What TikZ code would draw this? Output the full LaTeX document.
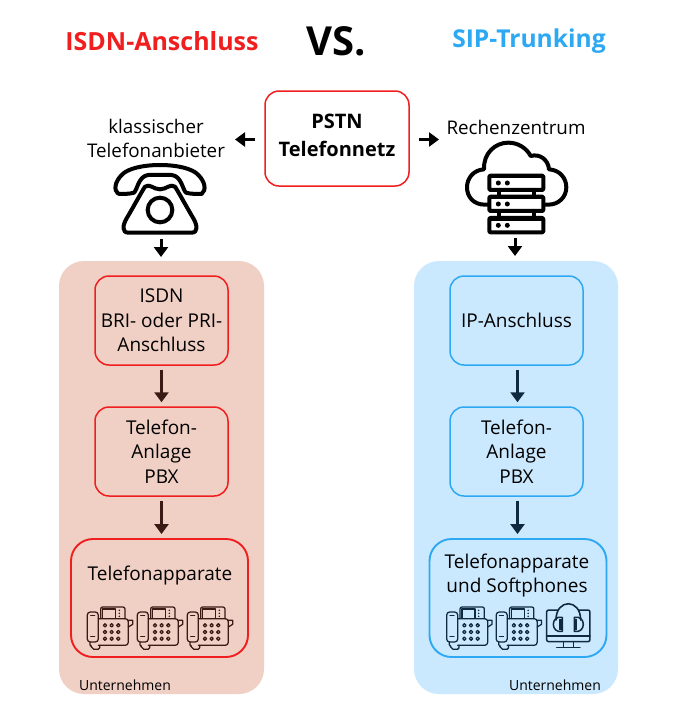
\documentclass[tikz,border=0pt]{standalone}
\usepackage{fontspec}
\setmainfont{Open Sans}
\usetikzlibrary{arrows.meta}
\definecolor{rd}{HTML}{F01E1E}
\definecolor{bl}{HTML}{2CA9F2}
\definecolor{pnr}{HTML}{F0CFC4}
\definecolor{pnb}{HTML}{CBE9FE}
\definecolor{dkr}{HTML}{3A1A14}
\definecolor{dkb}{HTML}{0F2A3F}
\tikzset{
  panel/.style={draw=none,rounded corners=25,minimum width=#1,minimum height=433},
  rbox/.style={draw=rd,line width=1.5,rounded corners=14,minimum width=133,minimum height=89,align=center,font=\fontsize{19}{24.5}\selectfont,inner sep=0},
  bbox/.style={rbox,draw=bl},
  bigbox/.style={rounded corners=22,minimum width=177,minimum height=118,line width=1.9,inner sep=0},
  lbl/.style={font=\fontsize{18.8}{24}\selectfont,align=center,inner sep=0},
  small/.style={font=\fontsize{14}{16}\selectfont,inner sep=0},
  arr/.style={-{Triangle[length=10,width=14]},line width=3,black},
  inarr/.style={arr,line width=2.8,shorten <=4,shorten >=4},
  icon/.style={line width=1.3,line join=round,line cap=round},
}
\newcommand{\deskphone}[3]{%
\begin{scope}[shift={(#1,#2)},scale=0.3333,#3,icon,line width=1.25]
 \draw[rounded corners=3] (0,15) rectangle (33,105);
 \draw (10,25)--(22,25) (10,88)--(22,88);
 \draw[rounded corners=1.5] (8,105)--(8,118)--(15,118)--(15,127)--(37,127)--(37,115);
 \draw[rounded corners=3] (33,35)--(123,35)--(123,115)--(33,115);
 \draw (123,40)--(136,40)--(136,52)--(123,60);
 \draw[rounded corners=2] (40,35)--(40,0)--(113,0)--(113,35);
 \draw (46,6) rectangle (85,35) ;
 \foreach \yy in {10,19,28}{\fill (96,\yy) circle (2.6);}
 \foreach \xx in {53,73,93}{\foreach \yy in {55,75,95}{\draw (\xx,\yy) circle (5);}}
\end{scope}}
\begin{document}
\begin{tikzpicture}[x=1pt,y=-1pt]
\useasboundingbox (0,0) rectangle (673,721);
\fill[white] (0,0) rectangle (673,721);
% titles
\node[inner sep=0,text=rd,font=\fontsize{25}{29}\selectfont\bfseries] (t1) at (162,41) {ISDN-Anschluss};
\node[inner sep=0,font=\fontsize{40}{44}\selectfont\bfseries] (t2) at (336,41) {VS.};
\node[inner sep=0,text=bl,font=\fontsize{24.6}{29}\selectfont\bfseries] (t3) at (529,41) {SIP-Trunking};
% top
\node[draw=rd,line width=1.5,rounded corners=14,minimum width=144,minimum height=95,inner sep=0] (pstn) at (337,138.5) {};
\node[align=center,inner sep=0,font=\fontsize{20}{28}\selectfont\bfseries] (pstnt) at (337,135.5) {PSTN\\Telefonnetz};
\node[lbl] (anb) at (156,138) {klassischer\\Telefonanbieter};
\node[lbl] (rz) at (516,127) {Rechenzentrum};
\coordinate (tipl) at (235,139.5);
\coordinate (tipr) at (439,139.5);
\coordinate (pstnl) at (pstn.west |- tipl);
\coordinate (pstnr) at (pstn.east |- tipr);
\draw[arr,shorten <=9] (pstnl) -- (tipl);
\draw[arr,shorten <=9] (pstnr) -- (tipr);
% panels
\node[panel=205,fill=pnr] (pl) at (161.5,477.5) {};
\node[panel=204,fill=pnb] (pr) at (516,477.5) {};
% old phone
\begin{scope}[shift={(60,90)},scale=0.3333,line width=4,line join=round,line cap=round]
 \draw (175,312) .. controls (160,300) and (165,275) .. (185,255) .. controls (220,215) and (380,215) .. (415,255) .. controls (435,275) and (440,300) .. (425,312) .. controls (410,312) and (390,312) .. (378,308) .. controls (368,300) and (365,258) .. (335,255) -- (265,255) .. controls (235,258) and (232,300) .. (222,308) .. controls (210,312) and (190,312) .. cycle;
 \draw (255,290) .. controls (270,280) and (280,298) .. (300,298) .. controls (320,298) and (330,280) .. (345,290) .. controls (352,300) and (385,360) .. (400,385) .. controls (412,405) and (415,428) .. (395,428) -- (205,428) .. controls (185,428) and (188,405) .. (200,385) .. controls (215,360) and (248,300) .. cycle;
 \draw (300,360) circle (37);
\end{scope}
\coordinate (oldb) at (161,257);
\coordinate (oldt) at (161,239);
\draw[arr] (oldt) -- (oldb);
% cloud servers
\begin{scope}[shift={(420,110)},scale=0.3333,line width=4,line join=round,line cap=round]
 \draw (205,284) -- (195,284) .. controls (160,284) and (141,260) .. (141,232) .. controls (141,205) and (160,180) .. (192,178) .. controls (190,130) and (225,98) .. (265,98) .. controls (295,98) and (320,115) .. (332,138) .. controls (360,130) and (385,150) .. (387,178) .. controls (420,180) and (439,205) .. (439,232) .. controls (439,262) and (415,284) .. (385,284) -- (372,284);
 \foreach \yy in {197,260,324}{
  \draw[fill=white,rounded corners=1] (208,\yy) rectangle (370,\yy+43);
  \fill (208,\yy) rectangle (370,\yy+8);
  \fill (235,\yy+22) circle (7.5);
  \fill (262,\yy+22) circle (7.5);
 }
 \draw (238,240)--(238,260) (342,240)--(342,260) (238,303)--(238,324) (342,303)--(342,324);
\end{scope}
\coordinate (cloudb) at (515,256);
\coordinate (cloudt) at (515,238);
\draw[arr] (cloudt) -- (cloudb);
% left boxes
\node[rbox] (l1) at (161.5,320.5) {ISDN\\BRI- oder PRI-\\Anschluss};
\node[rbox] (l2) at (161.5,451.5) {Telefon-\\Anlage\\PBX};
\node[bigbox,draw=rd] (l3) at (159.5,598) {};
\node[lbl,font=\fontsize{19}{24}\selectfont] (l3t) at (160,576) {Telefonapparate};
\draw[inarr,dkr] (l1) -- (l2);
\draw[inarr,dkr] (l2) -- (l2 |- l3.north);
\deskphone{87.3}{607}{dkr}
\deskphone{137.3}{607}{dkr}
\deskphone{187.3}{607}{dkr}
\node[small] (lu) at (125,685) {Unternehmen};
% right boxes
\node[bbox] (r1) at (516.5,320.5) {IP-Anschluss};
\node[bbox] (r2) at (516.5,451.5) {Telefon-\\Anlage\\PBX};
\node[bigbox,draw=bl] (r3) at (518,598) {};
\node[lbl,font=\fontsize{19}{24.5}\selectfont] (r3t) at (517,575.5) {Telefonapparate\\und Softphones};
\draw[inarr,dkb] ([xshift=1]r1.south) -- ([xshift=1]r2.north);
\draw[inarr,dkb] ([xshift=1]r2.south) -- ([xshift=1]r2.south |- r3.north);
\deskphone{446.7}{607}{dkb}
\deskphone{496.2}{607}{dkb}
\begin{scope}[shift={(425,590)},scale=0.3333,dkb,icon,line width=1.5]
 \draw[rounded corners=2] (365,60) rectangle (495,155);
 \draw (365,138)--(495,138);
 \draw (415,155)--(415,172) (445,155)--(445,172) (395,173)--(465,173);
 \fill[pnb] (400,52) rectangle (460,68);
 \draw[line width=1.6] (393,90) .. controls (393,25) and (467,25) .. (467,90);
 \draw (412,82) .. controls (395,78) and (385,90) .. (385,103) .. controls (385,116) and (395,128) .. (412,124) -- cycle;
 \draw (448,82) .. controls (465,78) and (475,90) .. (475,103) .. controls (475,116) and (465,128) .. (448,124) -- cycle;
 \fill (403,86) rectangle (412,120);
 \fill (448,86) rectangle (457,120);
\end{scope}
\node[small] (ru) at (555,685) {Unternehmen};
\end{tikzpicture}
\end{document}
